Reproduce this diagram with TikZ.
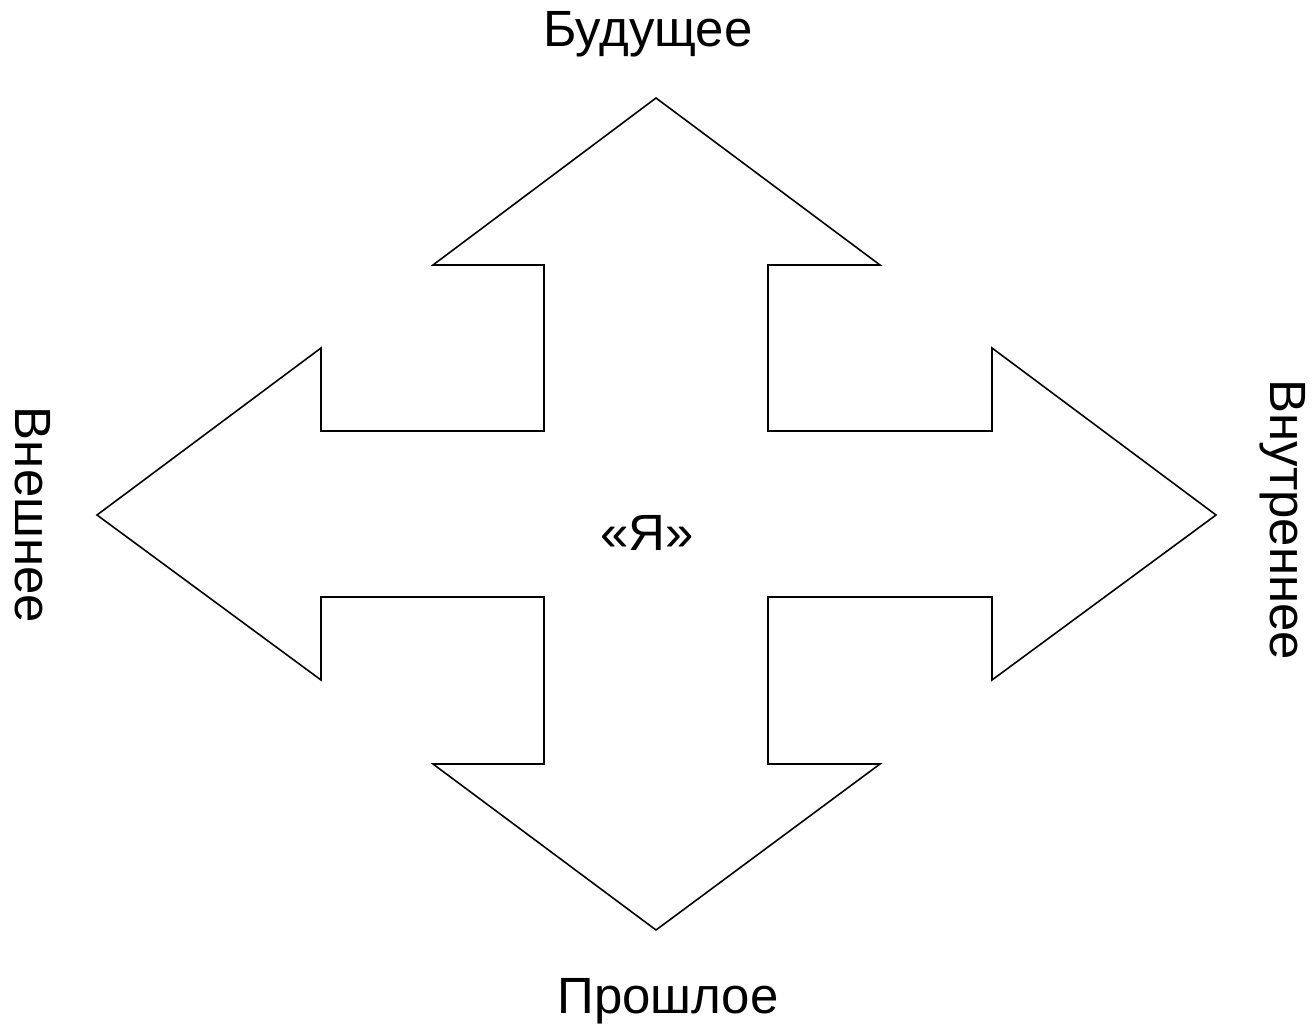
\documentclass[tikz,border=0pt]{standalone}
\usepackage{fontspec}
\setmainfont{Liberation Sans}
\usetikzlibrary{positioning}

\begin{document}
\begin{tikzpicture}[x=0.02cm, y=-0.02cm, line width=0.9pt]
          \tikzstyle{label} = [font=\fontsize{29}{33}\selectfont, inner sep=0pt, anchor=base]
          \tikzstyle{cross} = [draw=black, fill=white, line join=miter]

          \useasboundingbox (0,0) rectangle (1314,1030);

          % Cross of arrows
          \draw[cross] (656,98) -- (880,265) -- (768,265) -- (768,431)
            -- (992,431) -- (992,348) -- (1216,515) -- (992,680) -- (992,597)
            -- (768,597) -- (768,764) -- (880,764) -- (656,930) -- (433,764)
            -- (544,764) -- (544,597) -- (321,597) -- (321,680) -- (97,515)
            -- (321,348) -- (321,431) -- (544,431) -- (544,265) -- (433,265) -- cycle;

          % Labels
          \node[label] (self) at (647,550) {«Я»};
          \node[label] (future) at (648,47) {Будущее};
          \node[label] (past) at (668,1013) {Прошлое};
          \node[label, rotate=-90] (outer) at (15,515) {Внешнее};
          \node[label, rotate=-90] (inner) at (1270,520) {Внутреннее};

        \end{tikzpicture}
\end{document}
